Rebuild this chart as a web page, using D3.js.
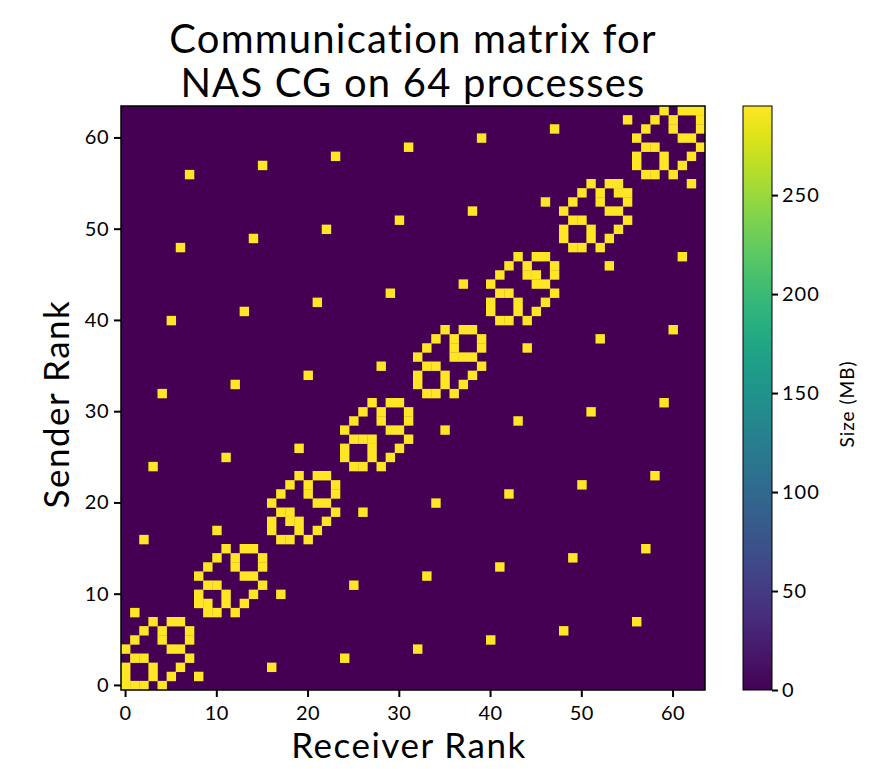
<!DOCTYPE html>
<html>
<head>
<meta charset="utf-8">
<script src="https://cdn.jsdelivr.net/npm/d3@7/dist/d3.min.js"></script>
<style>
  body { margin: 0; background: #fff; }
  text { font-family: Lato, "Noto Sans", sans-serif; fill: #000; }
</style>
</head>
<body>
<svg id="chart" width="876" height="769"></svg>
<script>
// ranks 0..63
const nRanks = 64
const rankTicks = [0, 10, 20, 30, 40, 50, 60]
const sizeTicks = [0, 50, 100, 150, 200, 250]
const sizeMax = 295   // top of the colour bar
const msgSize = 295   // every lit cell is at the top colour

// receivers of each sender (row index = sender rank)
const receiversBySender = [
  [0, 1, 2, 4], [0, 3, 5, 8], [0, 3, 6, 16], [1, 2, 7, 24],
  [0, 5, 6, 32], [1, 4, 7, 40], [2, 4, 7, 48], [3, 5, 6, 56],
  [1, 9, 10, 12], [8, 9, 11, 13], [8, 11, 14, 17], [9, 10, 15, 25],
  [8, 13, 14, 33], [9, 12, 15, 41], [10, 12, 15, 49], [11, 13, 14, 57],
  [2, 17, 18, 20], [10, 16, 19, 21], [16, 18, 19, 22], [17, 18, 23, 26],
  [16, 21, 22, 34], [17, 20, 23, 42], [18, 20, 23, 50], [19, 21, 22, 58],
  [3, 25, 26, 28], [11, 24, 27, 29], [19, 24, 27, 30], [25, 26, 27, 31],
  [24, 29, 30, 35], [25, 28, 31, 43], [26, 28, 31, 51], [27, 29, 30, 59],
  [4, 33, 34, 36], [12, 32, 35, 37], [20, 32, 35, 38], [28, 33, 34, 39],
  [32, 36, 37, 38], [33, 36, 39, 44], [34, 36, 39, 52], [35, 37, 38, 60],
  [5, 41, 42, 44], [13, 40, 43, 45], [21, 40, 43, 46], [29, 41, 42, 47],
  [37, 40, 45, 46], [41, 44, 45, 47], [42, 44, 47, 53], [43, 45, 46, 61],
  [6, 49, 50, 52], [14, 48, 51, 53], [22, 48, 51, 54], [30, 49, 50, 55],
  [38, 48, 53, 54], [46, 49, 52, 55], [50, 52, 54, 55], [51, 53, 54, 62],
  [7, 57, 58, 60], [15, 56, 59, 61], [23, 56, 59, 62], [31, 57, 58, 63],
  [39, 56, 61, 62], [47, 57, 60, 63], [55, 58, 60, 63], [59, 61, 62, 63]
]

const svg = d3.select('#chart')
const plot = { left: 121, top: 106, size: 584 }
const ranks = d3.range(nRanks)

const x = d3.scaleBand().domain(ranks).range([plot.left, plot.left + plot.size])
const y = d3.scaleBand().domain(ranks).range([plot.top + plot.size, plot.top])
const color = d3.scaleSequential(d3.interpolateViridis).domain([0, sizeMax])

// background = zero traffic
svg.append('rect')
  .attr('x', plot.left).attr('y', plot.top)
  .attr('width', plot.size).attr('height', plot.size)
  .attr('fill', color(0))

let cells = []
receiversBySender.forEach((recv, s) => {
  recv.forEach(r => cells.push({ sender: s, receiver: r, value: msgSize }))
})

svg.append('g')
  .selectAll('rect')
  .data(cells)
  .enter()
  .append('rect')
  .attr('x', d => x(d.receiver))
  .attr('y', d => y(d.sender))
  .attr('width', x.bandwidth() + 0.3)
  .attr('height', y.bandwidth() + 0.3)
  .attr('fill', d => color(d.value))

svg.append('rect')
  .attr('x', plot.left).attr('y', plot.top)
  .attr('width', plot.size).attr('height', plot.size)
  .attr('fill', 'none').attr('stroke', '#000').attr('stroke-width', 1.5)

// axes
const xAxis = svg.append('g')
  .attr('transform', `translate(0,${plot.top + plot.size})`)
  .call(d3.axisBottom(x).tickValues(rankTicks).tickSize(7).tickPadding(9))
const yAxis = svg.append('g')
  .attr('transform', `translate(${plot.left},0)`)
  .call(d3.axisLeft(y).tickValues(rankTicks).tickSize(7).tickPadding(5))
for (let ax of [xAxis, yAxis]) {
  ax.select('.domain').remove()
  ax.selectAll('.tick line').attr('stroke', '#000').attr('stroke-width', 2)
  ax.selectAll('.tick text').style('font-size', '20px').style('letter-spacing', '0.5px')
    .style('font-family', null)
}

// titles
svg.append('text').attr('x', 413).attr('y', 53).attr('text-anchor', 'middle')
  .style('font-size', '40px').style('letter-spacing', '1.2px').text('Communication matrix for')
svg.append('text').attr('x', 413).attr('y', 97).attr('text-anchor', 'middle')
  .style('font-size', '40px').style('letter-spacing', '1.2px').text('NAS CG on 64 processes')
svg.append('text').attr('x', 409).attr('y', 758).attr('text-anchor', 'middle')
  .style('font-size', '35px').style('letter-spacing', '1.5px').text('Receiver Rank')
svg.append('text').attr('transform', 'translate(69,404) rotate(-90)').attr('text-anchor', 'middle')
  .style('font-size', '35px').style('letter-spacing', '1.5px').text('Sender Rank')

// colour bar
const bar = { left: 743, width: 29 }
const cb = d3.scaleLinear().domain([0, sizeMax]).range([plot.top + plot.size, plot.top])
const grad = svg.append('defs').append('linearGradient')
  .attr('id', 'viridis').attr('x1', 0).attr('y1', 1).attr('x2', 0).attr('y2', 0)
d3.range(0, 1.0001, 0.05).forEach(t => {
  grad.append('stop').attr('offset', t).attr('stop-color', d3.interpolateViridis(t))
})
svg.append('rect')
  .attr('x', bar.left).attr('y', plot.top)
  .attr('width', bar.width).attr('height', plot.size)
  .attr('fill', 'url(#viridis)').attr('stroke', '#000').attr('stroke-width', 1)
const cbAxis = svg.append('g')
  .attr('transform', `translate(${bar.left + bar.width},0)`)
  .call(d3.axisRight(cb).tickValues(sizeTicks).tickSize(6).tickPadding(4))
cbAxis.select('.domain').remove()
cbAxis.selectAll('.tick line').attr('stroke', '#000').attr('stroke-width', 2)
cbAxis.selectAll('.tick text').style('font-size', '20px').style('letter-spacing', '1px')
  .style('font-family', null)
svg.append('text').attr('transform', 'translate(854,404) rotate(-90)').attr('text-anchor', 'middle')
  .style('font-size', '19px').style('letter-spacing', '1px').text('Size (MB)')
</script>
</body>
</html>
